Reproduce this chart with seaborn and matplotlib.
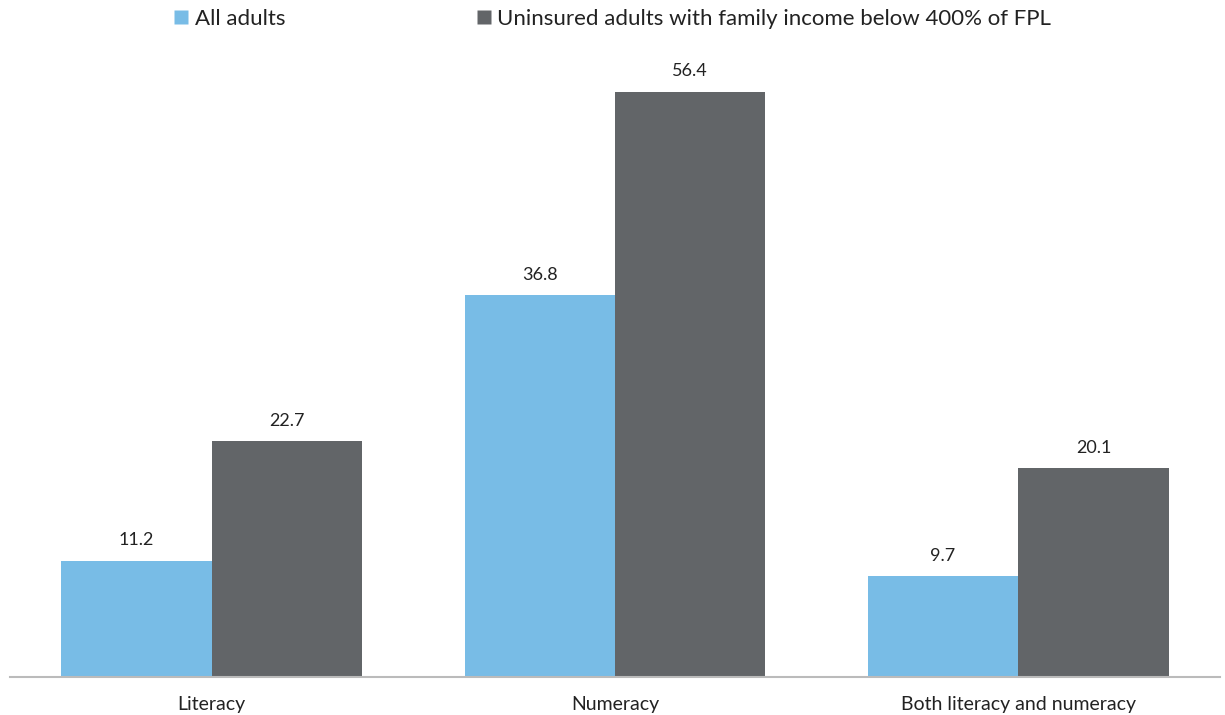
import matplotlib
matplotlib.use("Agg")
import matplotlib.pyplot as plt
import seaborn as sns
import pandas as pd
from matplotlib.lines import Line2D

categories = ["Literacy", "Numeracy", "Both literacy and numeracy"]
series_names = ["All adults", "Uninsured adults with family income below 400% of FPL"]
all_adults = [11.2, 36.8, 9.7]
uninsured = [22.7, 56.4, 20.1]

df = pd.DataFrame({
    "category": categories * 2,
    "series": [series_names[0]] * 3 + [series_names[1]] * 3,
    "value": all_adults + uninsured,
})

sns.set_theme(style="white")
plt.rcParams['font.family'] = ['Lato', 'DejaVu Sans']

colors = ["#78BCE6", "#626568"]

fig = plt.figure(figsize=(12.25, 7.15), dpi=100)
ax = fig.add_axes([10/1225, 1 - 677/715, 1210/1225, (677 - 44)/715])

sns.barplot(data=df, x="category", y="value", hue="series", order=categories,
            hue_order=series_names, palette=colors, width=0.746, gap=0,
            saturation=1, ax=ax, legend=False, edgecolor="none")

for cont in ax.containers:
    ax.bar_label(cont, labels=[f"{v:.1f}" for v in cont.datavalues],
                 padding=9, fontsize=13, color="#222222")

ax.set_ylim(0, 61)
ax.set_xlim(-0.5, 2.5)
ax.set_xlabel("")
ax.set_ylabel("")
ax.set_yticks([])
for s in ["top", "right", "left"]:
    ax.spines[s].set_visible(False)
ax.spines["bottom"].set_color("#BBBBBB")
ax.spines["bottom"].set_linewidth(1.5)
ax.tick_params(axis="x", length=0, pad=14, labelsize=14, labelcolor="#222222")

handles = [Line2D([0], [0], marker="s", linestyle="none", markersize=10,
                  markerfacecolor=c, markeredgecolor="none") for c in colors]
fig.legend(handles, series_names, loc="upper center", bbox_to_anchor=(0.5, 1.016),
           ncol=2, frameon=False, fontsize=16, handletextpad=0.25,
           columnspacing=8.6, handlelength=0.7, labelcolor="#222222")

fig.savefig("out.png", dpi=100)
